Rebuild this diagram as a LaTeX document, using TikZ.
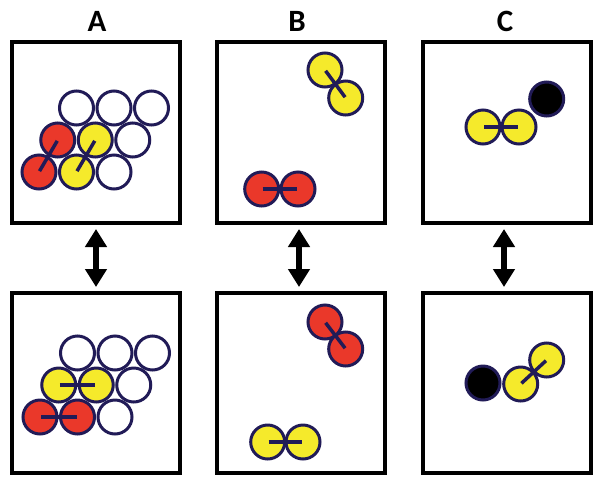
\documentclass[tikz,border=0pt]{standalone}
\usepackage{fontspec}
\setmainfont{Carlito}
\usetikzlibrary{arrows.meta}
\definecolor{navy}{RGB}{33,27,87}
\definecolor{atomred}{RGB}{234,56,42}
\definecolor{atomyel}{RGB}{245,234,43}
\tikzset{
  panel/.style={draw=black, line width=4.5pt, rectangle, minimum width=168pt, minimum height=181pt, inner sep=0pt, outer sep=0pt},
  lab/.style={font=\bfseries\fontsize{31}{31}\selectfont, inner sep=0pt},
  atom/.style={circle, draw=navy, line width=3pt, minimum size=34pt, inner sep=0pt, outer sep=0pt},
  ra/.style={atom, fill=atomred},
  ya/.style={atom, fill=atomyel},
  wa/.style={atom, fill=white},
  ka/.style={atom, fill=black},
  bond/.style={draw=navy, line width=3.5pt, shorten <=1pt, shorten >=1pt},
  dbl/.style={line width=5.5pt, {Triangle[width=21pt,length=18pt]}-{Triangle[width=21pt,length=18pt]}, shorten <=6pt, shorten >=6pt}
}
\begin{document}
\begin{tikzpicture}[x=1pt,y=-1pt]
\useasboundingbox (0,0) rectangle (600,483);
% labels
\node[lab] (LA) at (97,21) {A};
\node[lab] (LB) at (297,21) {B};
\node[lab] (LC) at (505,21) {C};
% panels
\node[panel] (At) at (96,132.5) {};
\node[panel] (Bt) at (301,132.5) {};
\node[panel] (Ct) at (507,132.5) {};
\node[panel, minimum height=180pt] (Ab) at (96,383) {};
\node[panel, minimum height=180pt] (Bb) at (301,383) {};
\node[panel, minimum height=180pt] (Cb) at (507,383) {};
% arrows
\draw[dbl] (At.south) -- (Ab.north);
\draw[dbl] ([xshift=-2pt]Bt.south) -- ([xshift=-2pt]Bb.north);
\draw[dbl] ([xshift=-3pt]Ct.south) -- ([xshift=-3pt]Cb.north);
% Panel A top
\node[wa] (at1) at (76.5,108) {};
\node[wa] (at2) at (114,108) {};
\node[wa] (at3) at (151.5,108) {};
\node[ra] (am1) at (57.75,140) {};
\node[ya] (am2) at (95.25,140) {};
\node[wa] (am3) at (132.75,140) {};
\node[ra] (ab1) at (39,172) {};
\node[ya] (ab2) at (76.5,172) {};
\node[wa] (ab3) at (114,172) {};
\draw[bond] (ab1.center) -- (am1.center);
\draw[bond] (ab2.center) -- (am2.center);
% Panel A bottom
\node[wa] (bt1) at (77.5,353) {};
\node[wa] (bt2) at (115,353) {};
\node[wa] (bt3) at (152.5,353) {};
\node[ya] (bm1) at (58.75,385) {};
\node[ya] (bm2) at (96.25,385) {};
\node[wa] (bm3) at (133.75,385) {};
\node[ra] (bb1) at (40,417) {};
\node[ra] (bb2) at (77.5,417) {};
\node[wa] (bb3) at (115,417) {};
\draw[bond] (bm1.center) -- (bm2.center);
\draw[bond] (bb1.center) -- (bb2.center);
% Panel B top
\node[ya] (by1) at (325,70) {};
\node[ya] (by2) at (345.7,98) {};
\node[ra] (br1) at (261.7,189) {};
\node[ra] (br2) at (298,189) {};
\draw[bond] (by1.center) -- (by2.center);
\draw[bond] (br1.center) -- (br2.center);
% Panel B bottom
\node[ra] (cr1) at (325,322) {};
\node[ra] (cr2) at (345.7,349) {};
\node[ya] (cy1) at (267.7,442) {};
\node[ya] (cy2) at (303,442) {};
\draw[bond] (cr1.center) -- (cr2.center);
\draw[bond] (cy1.center) -- (cy2.center);
% Panel C top
\node[ka] (dk) at (546.7,99) {};
\node[ya] (dy1) at (483,127) {};
\node[ya] (dy2) at (519,127) {};
\draw[bond] (dy1.center) -- (dy2.center);
% Panel C bottom
\node[ka] (ek) at (483,383) {};
\node[ya] (ey1) at (520.7,384) {};
\node[ya] (ey2) at (546.7,360) {};
\draw[bond] (ey1.center) -- (ey2.center);
\end{tikzpicture}
\end{document}
